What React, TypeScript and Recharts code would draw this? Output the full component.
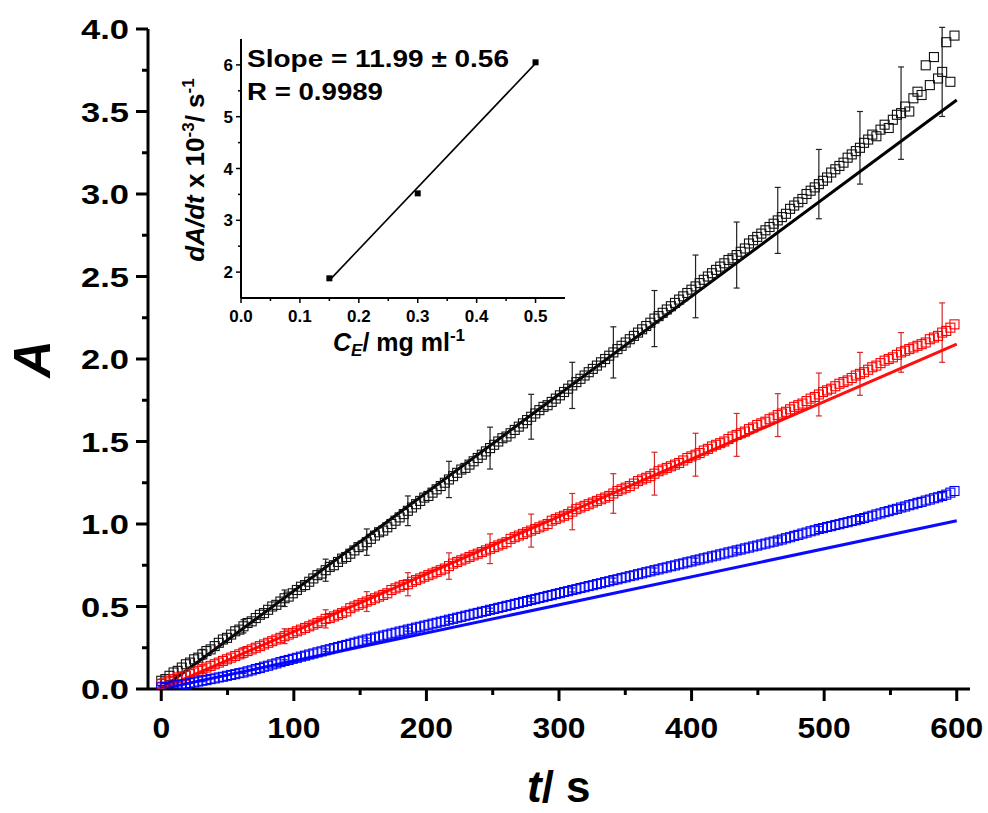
// Absorbance vs time with inset calibration (dA/dt vs C_E)
import { ComposedChart, Scatter, Line, XAxis, YAxis, ErrorBar } from 'recharts'

const FONT = '"Liberation Sans", Arial, sans-serif'

// readings every 3.1 s, error bar on every 10th reading (31 s)
const STEP = 3.1

const blackA = [
  0.05, 0.06, 0.08, 0.10, 0.11, 0.13, 0.15, 0.16, 0.18, 0.19,
  0.21, 0.23, 0.24, 0.26, 0.28, 0.30, 0.31, 0.33, 0.35, 0.36,
  0.38, 0.40, 0.41, 0.43, 0.45, 0.46, 0.48, 0.50, 0.51, 0.53,
  0.55, 0.56, 0.58, 0.60, 0.62, 0.63, 0.65, 0.67, 0.69, 0.70,
  0.72, 0.74, 0.75, 0.77, 0.79, 0.80, 0.82, 0.84, 0.86, 0.87,
  0.89, 0.91, 0.93, 0.95, 0.96, 0.98, 1.00, 1.02, 1.04, 1.06,
  1.08, 1.10, 1.12, 1.14, 1.16, 1.17, 1.19, 1.21, 1.23, 1.25,
  1.27, 1.29, 1.31, 1.33, 1.34, 1.36, 1.38, 1.40, 1.42, 1.44,
  1.46, 1.48, 1.50, 1.52, 1.53, 1.55, 1.57, 1.59, 1.61, 1.63,
  1.65, 1.67, 1.69, 1.71, 1.72, 1.74, 1.76, 1.78, 1.80, 1.82,
  1.84, 1.86, 1.88, 1.90, 1.92, 1.94, 1.96, 1.98, 2.00, 2.02,
  2.04, 2.06, 2.08, 2.10, 2.12, 2.14, 2.16, 2.18, 2.20, 2.22,
  2.245, 2.26, 2.28, 2.30, 2.32, 2.34, 2.36, 2.38, 2.40, 2.42,
  2.44, 2.46, 2.48, 2.50, 2.52, 2.54, 2.56, 2.58, 2.60, 2.61,
  2.63, 2.65, 2.67, 2.70, 2.72, 2.74, 2.76, 2.78, 2.80, 2.82,
  2.84, 2.86, 2.88, 2.91, 2.93, 2.95, 2.97, 3.00, 3.02, 3.04,
  3.06, 3.08, 3.10, 3.13, 3.15, 3.17, 3.19, 3.22, 3.24, 3.26,
  3.28, 3.31, 3.33, 3.36, 3.35, 3.39, 3.42, 3.40, 3.45, 3.48,
  3.49, 3.53, 3.50, 3.58, 3.62, 3.60, 3.78, 3.66, 3.83, 3.70,
  3.74, 3.92, 3.68, 3.96,
]

const redA = [
  0.03, 0.04, 0.05, 0.06, 0.07, 0.07, 0.08, 0.09, 0.10, 0.11,
  0.12, 0.13, 0.14, 0.15, 0.16, 0.17, 0.18, 0.19, 0.20, 0.21,
  0.22, 0.23, 0.24, 0.25, 0.26, 0.27, 0.28, 0.29, 0.30, 0.31,
  0.32, 0.33, 0.34, 0.35, 0.36, 0.37, 0.38, 0.39, 0.40, 0.41,
  0.425, 0.43, 0.44, 0.45, 0.46, 0.47, 0.49, 0.50, 0.51, 0.52,
  0.53, 0.54, 0.55, 0.56, 0.57, 0.58, 0.60, 0.61, 0.62, 0.63,
  0.635, 0.65, 0.66, 0.67, 0.68, 0.69, 0.70, 0.71, 0.72, 0.73,
  0.745, 0.76, 0.77, 0.78, 0.79, 0.80, 0.81, 0.82, 0.83, 0.84,
  0.85, 0.86, 0.87, 0.88, 0.89, 0.91, 0.92, 0.93, 0.94, 0.95,
  0.96, 0.97, 0.98, 0.99, 1.00, 1.02, 1.03, 1.04, 1.05, 1.06,
  1.075, 1.09, 1.10, 1.11, 1.12, 1.13, 1.14, 1.15, 1.16, 1.17,
  1.185, 1.20, 1.21, 1.22, 1.23, 1.245, 1.26, 1.27, 1.28, 1.29,
  1.305, 1.32, 1.33, 1.34, 1.35, 1.36, 1.37, 1.385, 1.40, 1.41,
  1.42, 1.43, 1.445, 1.455, 1.47, 1.48, 1.49, 1.50, 1.515, 1.53,
  1.54, 1.55, 1.56, 1.575, 1.585, 1.60, 1.61, 1.62, 1.635, 1.645,
  1.66, 1.67, 1.68, 1.695, 1.71, 1.72, 1.73, 1.745, 1.76, 1.77,
  1.785, 1.80, 1.81, 1.82, 1.835, 1.85, 1.86, 1.87, 1.885, 1.90,
  1.91, 1.92, 1.935, 1.95, 1.96, 1.975, 1.99, 2.00, 2.01, 2.025,
  2.04, 2.05, 2.06, 2.07, 2.08, 2.09, 2.10, 2.12, 2.13, 2.14,
  2.16, 2.17, 2.19, 2.21,
]

const blueA = [
  0.010, 0.013, 0.016, 0.020, 0.024, 0.028, 0.031, 0.036, 0.040, 0.045,
  0.050, 0.054, 0.060, 0.064, 0.070, 0.074, 0.080, 0.085, 0.090, 0.096,
  0.100, 0.107, 0.113, 0.121, 0.127, 0.135, 0.141, 0.149, 0.155, 0.163,
  0.170, 0.176, 0.183, 0.189, 0.196, 0.202, 0.209, 0.215, 0.222, 0.228,
  0.235, 0.241, 0.248, 0.254, 0.261, 0.267, 0.274, 0.280, 0.287, 0.293,
  0.300, 0.305, 0.312, 0.317, 0.324, 0.329, 0.336, 0.341, 0.348, 0.353,
  0.360, 0.365, 0.372, 0.377, 0.384, 0.389, 0.396, 0.401, 0.408, 0.413,
  0.420, 0.425, 0.432, 0.437, 0.444, 0.449, 0.456, 0.461, 0.468, 0.473,
  0.480, 0.485, 0.492, 0.497, 0.504, 0.509, 0.516, 0.521, 0.528, 0.533,
  0.540, 0.545, 0.552, 0.557, 0.564, 0.569, 0.576, 0.581, 0.588, 0.593,
  0.600, 0.605, 0.612, 0.617, 0.624, 0.629, 0.636, 0.641, 0.648, 0.653,
  0.660, 0.665, 0.672, 0.677, 0.684, 0.689, 0.696, 0.701, 0.708, 0.713,
  0.720, 0.725, 0.732, 0.737, 0.744, 0.749, 0.756, 0.761, 0.768, 0.773,
  0.780, 0.785, 0.792, 0.797, 0.804, 0.809, 0.816, 0.821, 0.828, 0.833,
  0.840, 0.845, 0.852, 0.857, 0.864, 0.869, 0.876, 0.881, 0.888, 0.893,
  0.900, 0.906, 0.914, 0.920, 0.928, 0.934, 0.942, 0.948, 0.956, 0.962,
  0.970, 0.975, 0.982, 0.987, 0.994, 0.999, 1.006, 1.011, 1.018, 1.023,
  1.030, 1.036, 1.044, 1.050, 1.058, 1.064, 1.072, 1.078, 1.086, 1.092,
  1.100, 1.106, 1.114, 1.120, 1.128, 1.134, 1.142, 1.148, 1.156, 1.162,
  1.170, 1.178, 1.190, 1.200,
]

const blackErr = [0.01, 0.03, 0.04, 0.05, 0.067, 0.08, 0.09, 0.11, 0.127, 0.136, 0.14, 0.155, 0.17, 0.19, 0.2, 0.2, 0.21, 0.22, 0.28, 0.27]
const redErr = [0.01, 0.02, 0.03, 0.045, 0.055, 0.06, 0.07, 0.08, 0.09, 0.10, 0.11, 0.12, 0.13, 0.13, 0.13, 0.13, 0.13, 0.13, 0.12, 0.18]
const blueErr = [0.005, 0.005, 0.006, 0.007, 0.008, 0.008, 0.009, 0.01, 0.01, 0.011, 0.012, 0.012, 0.013, 0.013, 0.014, 0.015, 0.015, 0.016, 0.017, 0.02]

// linear fits (start / end of fitted window)
const fitT = [0, 600]
const blackFit = [0.0, 3.57]
const redFit = [0.0, 2.09]
const blueFit = [0.0, 1.02]

// inset: initial rate vs enzyme concentration
const insetConc = [0.15, 0.3, 0.5]
const insetRate = [1.88, 3.52, 6.05]
const insetFitConc = [0.15, 0.5]
const insetFitRate = [1.84, 6.03]

const yTicks = [0, 0.25, 0.5, 0.75, 1, 1.25, 1.5, 1.75, 2, 2.25, 2.5, 2.75, 3, 3.25, 3.5, 3.75, 4]
const xTicks = [0, 50, 100, 150, 200, 250, 300, 350, 400, 450, 500, 550, 600]
const insetXTicks = [0, 0.05, 0.1, 0.15, 0.2, 0.25, 0.3, 0.35, 0.4, 0.45, 0.5]
const insetYTicks = [2, 2.5, 3, 3.5, 4, 4.5, 5, 5.5, 6]

function toSeries(vals: number[], errs: number[]) {
  return vals.map((a, i) => ({
    t: +(i * STEP).toFixed(1),
    a,
    err: i % 10 === 0 ? errs[i / 10] : undefined,
  }))
}

function toLine(ts: number[], vals: number[]) {
  return ts.map((t, i) => ({ t, a: vals[i] }))
}

const blackData = toSeries(blackA, blackErr)
const redData = toSeries(redA, redErr)
const blueData = toSeries(blueA, blueErr)

const openSquare = (color: string) => (p: any) => (
  <rect x={p.cx - 4.5} y={p.cy - 4.5} width={9} height={9} fill="none" stroke={color} strokeWidth={1.1} />
)

const isMult = (v: number, step: number) => Math.abs(v / step - Math.round(v / step)) < 1e-6

function MainYTick({ x, y, payload }: any) {
  const v = payload.value
  const major = isMult(v, 0.5)
  return (
    <g>
      <line x1={x} x2={x - (major ? 12 : 6)} y1={y} y2={y} stroke="#000" strokeWidth={3} />
      {major && (
        <text x={x - 19} y={y} dy="0.36em" textAnchor="end" fontFamily={FONT} fontWeight="bold" fontSize={28} fill="#000" textLength={48} lengthAdjust="spacingAndGlyphs">
          {v.toFixed(1)}
        </text>
      )}
    </g>
  )
}

function MainXTick({ x, y, payload }: any) {
  const v = payload.value
  const major = isMult(v, 100)
  const label = String(v)
  return (
    <g>
      <line x1={x} x2={x} y1={y} y2={y + (major ? 12 : 6)} stroke="#000" strokeWidth={3} />
      {major && (
        <text x={x} y={y + 49} textAnchor="middle" fontFamily={FONT} fontWeight="bold" fontSize={30} fill="#000" textLength={label.length * 17.7} lengthAdjust="spacingAndGlyphs">
          {label}
        </text>
      )}
    </g>
  )
}

function InsetYTick({ x, y, payload }: any) {
  const v = payload.value
  const major = isMult(v, 1)
  return (
    <g>
      <line x1={x} x2={x - (major ? 5 : 3)} y1={y} y2={y} stroke="#000" strokeWidth={1.5} />
      {major && (
        <text x={x - 8} y={y} dy="0.36em" textAnchor="end" fontFamily={FONT} fontWeight="bold" fontSize={17} fill="#000">
          {v}
        </text>
      )}
    </g>
  )
}

function InsetXTick({ x, y, payload }: any) {
  const v = payload.value
  const major = isMult(v, 0.1)
  return (
    <g>
      <line x1={x} x2={x} y1={y} y2={y + (major ? 5 : 3)} stroke="#000" strokeWidth={1.5} />
      {major && (
        <text x={x} y={y + 24} textAnchor="middle" fontFamily={FONT} fontWeight="bold" fontSize={17} fill="#000">
          {v.toFixed(1)}
        </text>
      )}
    </g>
  )
}

function MainChart() {
  return (
    <ComposedChart width={988} height={813} margin={{ top: 29, right: 18, bottom: 0, left: 0 }}>
      <XAxis
        type="number"
        dataKey="t"
        domain={[-10, 610]}
        allowDataOverflow
        ticks={xTicks}
        interval={0}
        height={124}
        tickSize={0}
        tickMargin={0}
        tickLine={false}
        axisLine={{ stroke: '#000', strokeWidth: 3 }}
        tick={<MainXTick />}
      />
      <YAxis
        type="number"
        dataKey="a"
        domain={[0, 4]}
        allowDataOverflow
        ticks={yTicks}
        interval={0}
        width={148}
        tickSize={0}
        tickMargin={0}
        tickLine={false}
        axisLine={{ stroke: '#000', strokeWidth: 3 }}
        tick={<MainYTick />}
      />
      <Scatter data={blackData} dataKey="a" shape={openSquare('#111')} isAnimationActive={false}>
        <ErrorBar dataKey="err" direction="y" width={3} stroke="#222" strokeWidth={1.2} />
      </Scatter>
      <Scatter data={redData} dataKey="a" shape={openSquare('#ff0000')} isAnimationActive={false}>
        <ErrorBar dataKey="err" direction="y" width={3} stroke="#d42a2a" strokeWidth={1.2} />
      </Scatter>
      <Scatter data={blueData} dataKey="a" shape={openSquare('#0000ff')} isAnimationActive={false}>
        <ErrorBar dataKey="err" direction="y" width={3} stroke="#2020d0" strokeWidth={1.2} />
      </Scatter>
      <Line data={toLine(fitT, blackFit)} dataKey="a" stroke="#000" strokeWidth={3} dot={false} isAnimationActive={false} />
      <Line data={toLine(fitT, redFit)} dataKey="a" stroke="#ff0f0f" strokeWidth={3} dot={false} isAnimationActive={false} />
      <Line data={toLine(fitT, blueFit)} dataKey="a" stroke="#0a0aff" strokeWidth={3} dot={false} isAnimationActive={false} />
    </ComposedChart>
  )
}

function InsetChart() {
  const pts = insetConc.map((c, i) => ({ c, v: insetRate[i] }))
  const fit = insetFitConc.map((c, i) => ({ c, v: insetFitRate[i] }))
  return (
    <ComposedChart width={420} height={320} margin={{ top: 19, right: 15, bottom: 0, left: 0 }}>
      <XAxis
        type="number"
        dataKey="c"
        domain={[0, 0.55]}
        allowDataOverflow
        ticks={insetXTicks}
        interval={0}
        height={42}
        tickSize={0}
        tickMargin={0}
        tickLine={false}
        axisLine={{ stroke: '#000', strokeWidth: 2 }}
        tick={<InsetXTick />}
      />
      <YAxis
        type="number"
        dataKey="v"
        domain={[1.5, 6.5]}
        allowDataOverflow
        ticks={insetYTicks}
        interval={0}
        width={81}
        tickSize={0}
        tickMargin={0}
        tickLine={false}
        axisLine={{ stroke: '#000', strokeWidth: 2 }}
        tick={<InsetYTick />}
      />
      <Line data={fit} dataKey="v" stroke="#000" strokeWidth={1.6} dot={false} isAnimationActive={false} />
      <Scatter
        data={pts}
        dataKey="v"
        isAnimationActive={false}
        shape={(p: any) => <rect x={p.cx - 3} y={p.cy - 3} width={6} height={6} fill="#000" />}
      />
    </ComposedChart>
  )
}

export default function App() {
  return (
    <div style={{ position: 'absolute', left: 0, top: 0, width: 988, height: 813, background: '#fff' }}>
      <div style={{ position: 'absolute', left: 0, top: 0 }}>
        <MainChart />
      </div>
      <div style={{ position: 'absolute', left: 160, top: 20 }}>
        <InsetChart />
      </div>
      <svg width={988} height={813} style={{ position: 'absolute', left: 0, top: 0, pointerEvents: 'none' }} fontFamily={FONT} fontWeight="bold" fill="#000">
        {/* main axis titles */}
        <text x={50} y={359} fontSize={52} fontStyle="italic" textAnchor="middle" transform="rotate(-90 50 359)">A</text>
        <text x={527} y={802} fontSize={44}>
          <tspan fontStyle="italic">t</tspan>/ s
        </text>
        {/* inset annotation */}
        <text x={247} y={67} fontSize={24} textLength={262} lengthAdjust="spacingAndGlyphs">Slope = 11.99 ± 0.56</text>
        <text x={247} y={100} fontSize={24} textLength={136} lengthAdjust="spacingAndGlyphs">R = 0.9989</text>
        {/* inset axis titles */}
        <text x={204} y={170} fontSize={26} textAnchor="middle" transform="rotate(-90 204 170)">
          <tspan fontStyle="italic">dA/dt</tspan> x 10<tspan fontSize={17} dy={-10}>-3</tspan>
          <tspan dy={10}>/ s</tspan>
          <tspan fontSize={17} dy={-10}>-1</tspan>
        </text>
        <text x={333} y={351} fontSize={25}>
          <tspan fontStyle="italic">C</tspan>
          <tspan fontStyle="italic" fontSize={17} dy={5}>E</tspan>
          <tspan dy={-5}>/ mg ml</tspan>
          <tspan fontSize={17} dy={-10}>-1</tspan>
        </text>
      </svg>
    </div>
  )
}
